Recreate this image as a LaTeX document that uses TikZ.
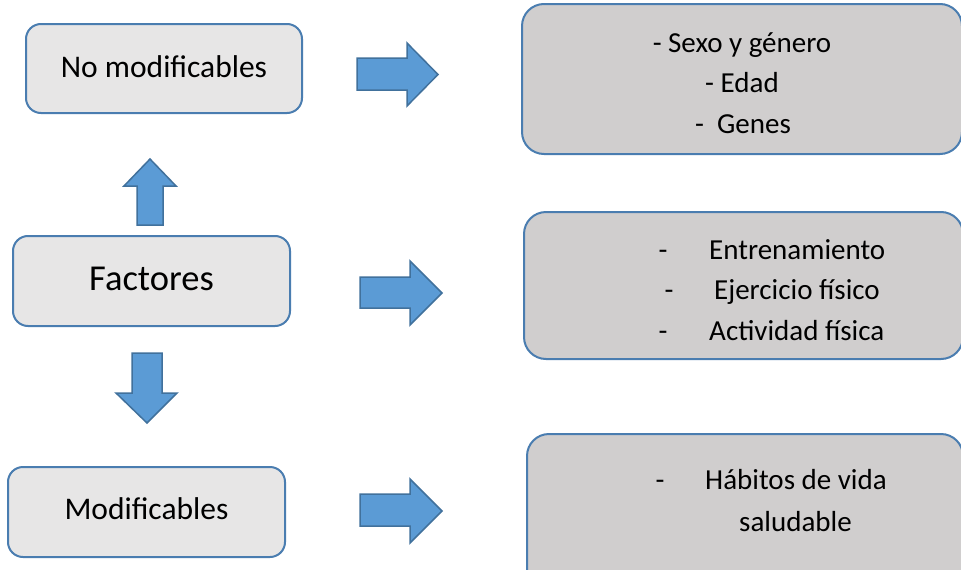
\documentclass[tikz,border=0pt]{standalone}
\usepackage{fontspec}
\setmainfont{Carlito}
\definecolor{boxline}{HTML}{4A7DB0}
\definecolor{leftfill}{HTML}{E7E6E6}
\definecolor{rightfill}{HTML}{D0CECE}
\definecolor{arrowfill}{HTML}{5B9BD5}
\definecolor{arrowline}{HTML}{41719C}
\tikzset{
  leftbox/.style={draw=boxline, line width=2pt, fill=leftfill, rounded corners=15pt},
  rightbox/.style={draw=boxline, line width=2pt, fill=rightfill, rounded corners=22pt},
  blockarrow/.style={draw=arrowline, line width=1.5pt, fill=arrowfill, line join=miter},
  bigtxt/.style={inner sep=0pt, anchor=base, font=\fontsize{31.5}{38}\selectfont},
  hugetxt/.style={inner sep=0pt, anchor=base, font=\fontsize{36.5}{44}\selectfont},
  rtxt/.style={inner sep=0pt, anchor=base, font=\fontsize{29}{35}\selectfont},
  rtxtw/.style={inner sep=0pt, anchor=base west, font=\fontsize{29}{35}\selectfont},
}
\begin{document}
\begin{tikzpicture}[x=1pt,y=-1pt]
\useasboundingbox (0,0) rectangle (961,570);
\clip (0,0) rectangle (961,570);
\fill[white] (0,0) rectangle (961,570);

% left boxes
\path[leftbox] (26,24) rectangle (302,113);
\node[bigtxt] (nomod) at (164,77) {No modificables};
\path[leftbox] (13,236) rectangle (290,326);
\node[hugetxt] (fact) at (151.5,290) {Factores};
\path[leftbox] (8,467) rectangle (285,557);
\node[bigtxt] (mod) at (146.5,519) {Modificables};

% right boxes
\path[rightbox] (522,4) rectangle (962,154);
\node[rtxt] (a1) at (742,52) {- Sexo y género};
\node[rtxt] (a2) at (742,92) {- Edad};
\node[rtxt] (a3) at (743,133) {-\ \ Genes};

\path[rightbox] (524,212) rectangle (963,359);
\node[rtxt] (b1d) at (663,259) {-};
\node[rtxtw] (b1) at (709,259) {Entrenamiento};
\node[rtxt] (b2d) at (669,299) {-};
\node[rtxtw] (b2) at (714,299) {Ejercicio físico};
\node[rtxt] (b3d) at (663,340) {-};
\node[rtxtw] (b3) at (709,340) {Actividad física};

\path[rightbox] (527,434) rectangle (963,600);
\node[rtxt] (c1d) at (660,489) {-};
\node[rtxtw] (c1) at (705,489) {Hábitos de vida};
\node[rtxt] (c2) at (795.5,531) {saludable};

% block arrows (right)
\path[blockarrow] (357,58) -- (407,58) -- (407,43) -- (438,74.5) -- (407,106) -- (407,90) -- (357,90) -- cycle;
\path[blockarrow] (360,277) -- (410,277) -- (410,261) -- (442,293) -- (410,325) -- (410,308) -- (360,308) -- cycle;
\path[blockarrow] (360,494) -- (410,494) -- (410,479) -- (442,511) -- (410,543) -- (410,526) -- (360,526) -- cycle;
% up arrow
\path[blockarrow] (137,225) -- (137,186) -- (124,186) -- (150,159) -- (176,186) -- (163,186) -- (163,225) -- cycle;
% down arrow
\path[blockarrow] (132,353) -- (162,353) -- (162,393) -- (177,393) -- (147,423) -- (116,393) -- (132,393) -- cycle;
\end{tikzpicture}
\end{document}
